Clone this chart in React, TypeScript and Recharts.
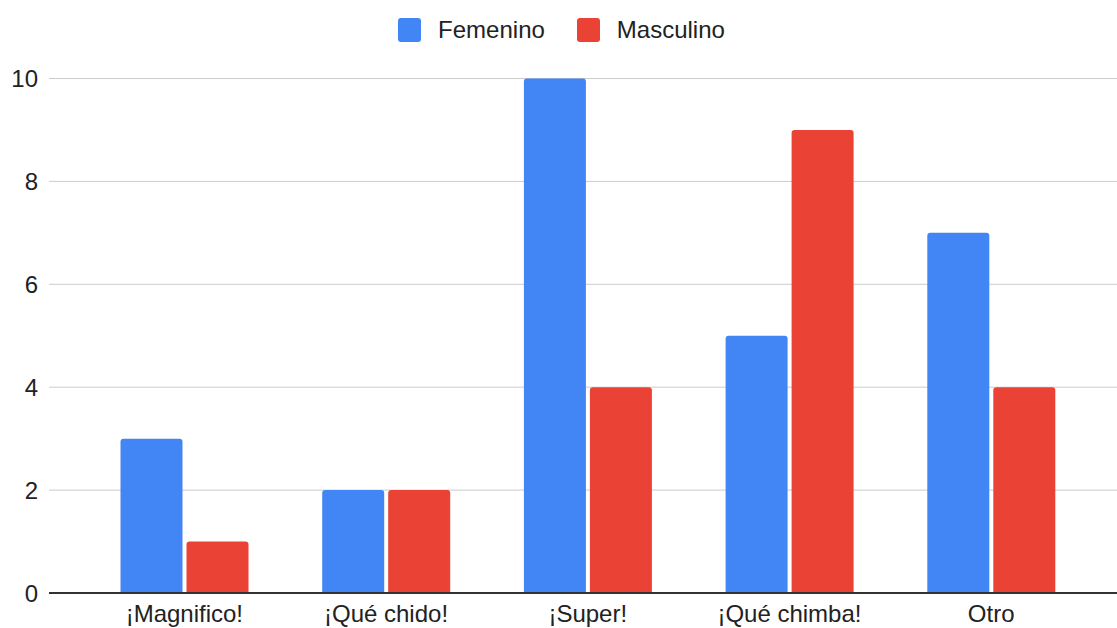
import React from "react";
import { BarChart, Bar, XAxis, YAxis, CartesianGrid, Legend } from "recharts";

const categories = ["¡Magnifico!", "¡Qué chido!", "¡Super!", "¡Qué chimba!", "Otro"];
const femenino = [3, 2, 10, 5, 7];
const masculino = [1, 2, 4, 9, 4];
const yTicks = [0, 2, 4, 6, 8, 10];

const seriesInfo = [
  { key: "Femenino", color: "#4285F4" },
  { key: "Masculino", color: "#EA4335" },
];

const data = categories.map((c, i) => ({
  name: c,
  Femenino: femenino[i],
  Masculino: masculino[i],
}));

const FONT = "'Liberation Sans', Arial, sans-serif";

const LegendContent = () => (
  <div
    style={{
      display: "flex",
      justifyContent: "center",
      alignItems: "center",
      fontFamily: FONT,
      fontSize: 24,
      color: "#222",
      gap: 32,
    }}
  >
    {seriesInfo.map((s) => (
      <div key={s.key} style={{ display: "flex", alignItems: "center" }}>
        <div
          style={{
            width: 23,
            height: 24,
            background: s.color,
            borderRadius: 3,
            marginRight: 17,
          }}
        />
        <span style={{ lineHeight: "24px" }}>{s.key}</span>
      </div>
    ))}
  </div>
);

export default function App() {
  return (
    <div style={{ position: "absolute", left: 0, top: 0, background: "#fff" }}>
      <BarChart
        width={1117}
        height={628}
        data={data}
        margin={{ top: 78.5, right: 0, bottom: 0, left: 0 }}
        barSize={62}
        barGap={4}
      >
        <CartesianGrid vertical={false} stroke="#cccccc" strokeWidth={1} />
        <XAxis
          dataKey="name"
          height={35}
          padding={{ left: 34.5, right: 25 }}
          tickLine={false}
          tickSize={0}
          tickMargin={12}
          axisLine={{ stroke: "#333333", strokeWidth: 2 }}
          tick={{ fill: "#222", fontSize: 24, fontFamily: FONT }}
          interval={0}
        />
        <YAxis
          width={49}
          domain={[0, 10]}
          ticks={yTicks}
          tickLine={false}
          axisLine={false}
          tickSize={0}
          tickMargin={11}
          tick={{ fill: "#222", fontSize: 24, fontFamily: FONT }}
        />
        <Legend
          layout="horizontal"
          verticalAlign="middle"
          align="center"
          wrapperStyle={{ top: 18, left: 3, width: 1117 }}
          content={<LegendContent />}
        />
        {seriesInfo.map((s) => (
          <Bar
            key={s.key}
            dataKey={s.key}
            fill={s.color}
            radius={[3, 3, 0, 0]}
            isAnimationActive={false}
          />
        ))}
      </BarChart>
    </div>
  );
}
